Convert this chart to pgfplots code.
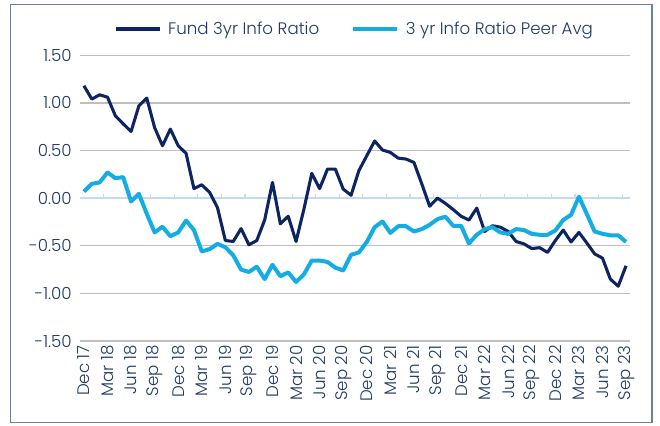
\documentclass[border=0pt]{standalone}
\usepackage{pgfplots}
\usepackage{pgfplotstable}
\pgfplotsset{compat=1.18}
\usepackage{fontspec}
\setmainfont{Poppins}[UprightFont=* Light]
\definecolor{fundc}{HTML}{0C2461}
\definecolor{peerc}{HTML}{14ADE3}
\definecolor{gridc}{HTML}{BFBFBF}
\definecolor{zeroc}{HTML}{C6D9F1}
\definecolor{textc}{HTML}{1F3864}
\definecolor{framec}{HTML}{6B7FA3}

\pgfplotstableread{
m v
0 1.18
1 1.04
2 1.085
3 1.06
4 0.865
5 0.78
6 0.70
7 0.97
8 1.05
9 0.74
10 0.55
11 0.725
12 0.55
13 0.47
14 0.10
15 0.14
16 0.06
17 -0.10
18 -0.445
19 -0.455
20 -0.32
21 -0.49
22 -0.445
23 -0.23
24 0.165
25 -0.27
26 -0.19
27 -0.455
28 -0.115
29 0.26
30 0.10
31 0.305
32 0.305
33 0.095
34 0.03
35 0.29
36 0.445
37 0.60
38 0.505
39 0.48
40 0.42
41 0.41
42 0.375
43 0.15
44 -0.085
45 0.00
46 -0.055
47 -0.12
48 -0.19
49 -0.23
50 -0.105
51 -0.35
52 -0.29
53 -0.305
54 -0.35
55 -0.455
56 -0.48
57 -0.53
58 -0.52
59 -0.57
60 -0.445
61 -0.335
62 -0.46
63 -0.36
64 -0.47
65 -0.585
66 -0.63
67 -0.85
68 -0.925
69 -0.71
}\fundtable

\pgfplotstableread{
m v
0 0.07
1 0.15
2 0.165
3 0.27
4 0.21
5 0.22
6 -0.035
7 0.045
8 -0.165
9 -0.36
10 -0.30
11 -0.40
12 -0.36
13 -0.235
14 -0.335
15 -0.56
16 -0.535
17 -0.48
18 -0.515
19 -0.60
20 -0.75
21 -0.775
22 -0.72
23 -0.85
24 -0.70
25 -0.82
26 -0.78
27 -0.88
28 -0.80
29 -0.655
30 -0.655
31 -0.67
32 -0.73
33 -0.76
34 -0.595
35 -0.57
36 -0.46
37 -0.305
38 -0.245
39 -0.365
40 -0.295
41 -0.295
42 -0.35
43 -0.325
44 -0.28
45 -0.22
46 -0.195
47 -0.29
48 -0.29
49 -0.475
50 -0.385
51 -0.325
52 -0.305
53 -0.36
54 -0.375
55 -0.325
56 -0.335
57 -0.375
58 -0.385
59 -0.385
60 -0.34
61 -0.23
62 -0.175
63 0.015
64 -0.165
65 -0.35
66 -0.375
67 -0.39
68 -0.39
69 -0.46
}\peertable

\begin{document}
\begin{tikzpicture}
\path (0pt,0pt) rectangle (495pt,318.75pt);
\draw[framec, line width=0.8pt] (8pt,1.7pt) rectangle (489pt,315.5pt);
\begin{axis}[
  at={(60pt,63pt)}, anchor=south west,
  scale only axis,
  width=412.5pt, height=214.3pt,
  xmin=-0.5, xmax=69.5,
  ymin=-1.5, ymax=1.5,
  axis line style={draw=none},
  ytick={-1.5,-1,-0.5,0,0.5,1,1.5},
  yticklabels={-1.50,-1.00,-0.50,0.00,0.50,1.00,1.50},
  xtick={0,3,...,69},
  xticklabels={Dec 17,Mar 18,Jun 18,Sep 18,Dec 18,Mar 19,Jun 19,Sep 19,Dec 19,Mar 20,Jun 20,Sep 20,Dec 20,Mar 21,Jun 21,Sep 21,Dec 21,Mar 22,Jun 22,Sep 22,Dec 22,Mar 23,Jun 23,Sep 23},
  major tick length=0pt,
  ymajorgrids,
  major grid style={gridc, line width=1.1pt},
  tick label style={font=\fontsize{12.5}{14}\selectfont, text=textc},
  xticklabel style={rotate=90, anchor=east, inner sep=1pt},
  yticklabel style={anchor=east, inner sep=1pt},
  xtick pos=bottom, ytick pos=left,
  xticklabel shift=2pt, yticklabel shift=5pt,
  legend columns=2,
  legend style={at={(0.5,1)}, anchor=south, yshift=10pt, draw=none, fill=none,
    font=\fontsize{12.5}{14}\selectfont, text=textc,
    /tikz/every odd column/.append style={column sep=3pt},
    /tikz/every even column/.append style={column sep=22pt}},
  legend image code/.code={\draw[#1] (0pt,0pt) -- (33pt,0pt);},
]
\draw[zeroc, line width=1.5pt] (axis cs:-0.5,0) -- (axis cs:69.5,0);
\pgfplotsinvokeforeach{2.5,5.5,8.5,11.5,14.5,17.5,20.5,23.5,26.5,29.5,32.5,35.5,38.5,41.5,44.5,47.5,50.5,53.5,56.5,59.5,62.5,65.5,68.5}{
  \draw[zeroc, line width=0.8pt] (axis cs:#1,0) -- ([yshift=3pt]axis cs:#1,0);
}
\addplot[fundc, line width=2.3pt, line join=round, no markers] table[x=m,y=v] {\fundtable};
\addlegendentry{Fund 3yr Info Ratio}
\addplot[peerc, line width=3pt, line join=round, no markers] table[x=m,y=v] {\peertable};
\addlegendentry{3 yr Info Ratio Peer Avg}
\end{axis}
\end{tikzpicture}
\end{document}
